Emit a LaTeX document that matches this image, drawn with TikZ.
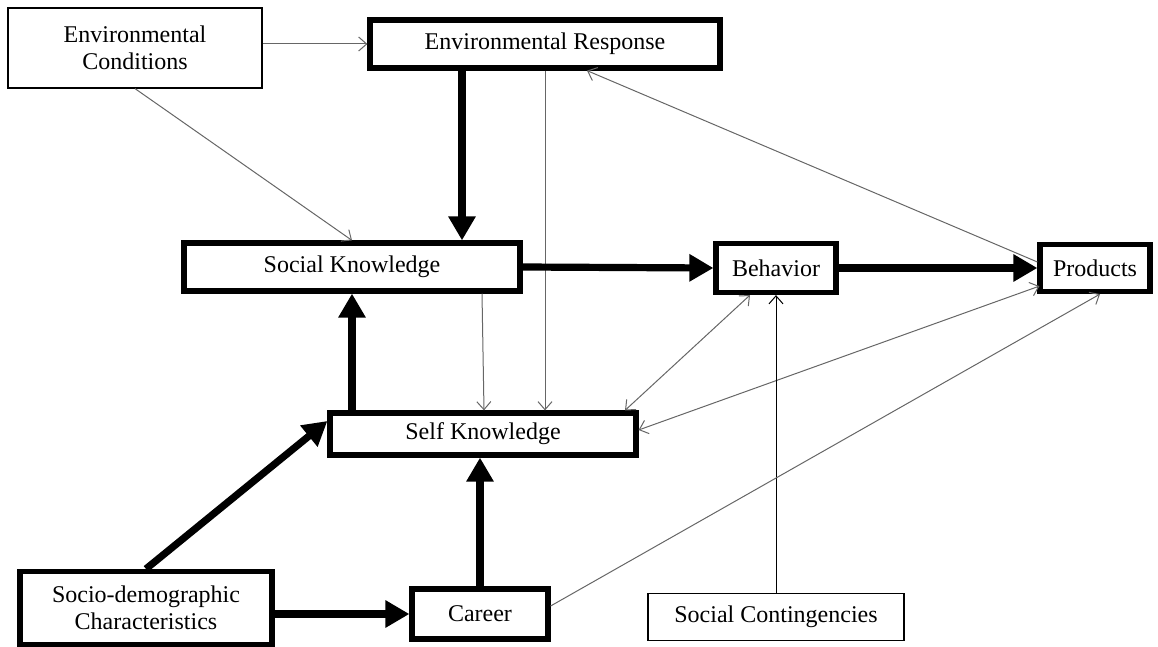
\documentclass[tikz,border=0pt]{standalone}
\usepackage{fontspec}
\setmainfont{Liberation Serif}
\usetikzlibrary{arrows.meta,positioning,calc}
\tikzset{
  box_thin/.style={rectangle,draw=black,line width=0.6pt,fill=white,
    align=center,font=\fontsize{12}{13.5}\selectfont,inner sep=2pt},
  box_thick/.style={rectangle,draw=black,line width=2.6pt,fill=white,
    align=center,font=\fontsize{12}{13.5}\selectfont,inner sep=2pt},
  arr_thin/.style={-{Straight Barb[length=4pt,width=7pt]},line width=0.5pt,draw=black!60},
  arr_both/.style={{Straight Barb[length=4pt,width=7pt]}-{Straight Barb[length=4pt,width=7pt]},
    line width=0.5pt,draw=black!60},
  arr_thick/.style={-{Triangle[length=12pt,width=13pt]},line width=3.6pt,draw=black},
}
\begin{document}
\begin{tikzpicture}[x=0.5pt,y=-0.5pt]
  \useasboundingbox (0,0) rectangle (1158,647);
  % boxes
  \node (envcond) [box_thin,minimum width=127pt,minimum height=40pt] at (135,48)
    {Environmental\\Conditions};
  \node (envresp) [box_thick,minimum width=175pt,minimum height=24pt] at (545,44)
    {Environmental Response};
  \node (socknow) [box_thick,minimum width=168pt,minimum height=24pt] at (352,267)
    {Social Knowledge};
  \node (behav) [box_thick,minimum width=60pt,minimum height=24.5pt] at (776,268)
    {Behavior};
  \node (prod) [box_thick,minimum width=55pt,minimum height=23.5pt] at (1095,268)
    {Products};
  \node (selfknow) [box_thick,minimum width=153pt,minimum height=21pt] at (483,434)
    {Self Knowledge};
  \node (socio) [box_thick,minimum width=126pt,minimum height=36.5pt] at (146,608)
    {Socio-demographic\\Characteristics};
  \node (career) [box_thick,minimum width=68pt,minimum height=25pt] at (480,614)
    {Career};
  \node (soccont) [box_thin,minimum width=128pt,minimum height=23.5pt] at (776,617)
    {Social Contingencies};
  % connector points
  \coordinate (skIn) at ($(socknow.north)+(110,0)$);
  \coordinate (selfInA) at ($(selfknow.north)+(62,0)$);
  \coordinate (selfInB) at ($(selfknow.north)+(1,0)$);
  \coordinate (skOut) at ($(socknow.south)+(130,0)$);
  \coordinate (erIn) at ($(envresp.south)+(42,0)$);
  \coordinate (prodA) at ($(prod.west)+(0,-6)$);
  \coordinate (prodB) at ($(prod.south west)+(2,-8)$);
  \coordinate (prodC) at ($(prod.south)+(5,0)$);
  \coordinate (behA) at ($(behav.south)+(-26,0)$);
  \coordinate (selfC) at ($(selfknow.north)+(142,0)$);
  \coordinate (selfD) at ($(selfknow.east)+(0,-4)$);
  \coordinate (selfE) at ($(selfknow.west)+(0,-13)$);
  \coordinate (careerOut) at ($(career.east)+(0,-8)$);
  % thin connectors
  \draw[arr_thin] (envcond.east |- envresp.west) -- (envresp.west);
  \draw[arr_thin] (envcond.south) -- (socknow.north);
  \draw[arr_thin] (selfInA |- envresp.south) -- (selfInA);
  \draw[arr_thin] (prodA) -- (erIn);
  \draw[arr_thin] (skOut) -- (selfInB);
  \draw[arr_both] (behA) -- (selfC);
  \draw[arr_both] (prodB) -- (selfD);
  \draw[arr_thin,draw=black] (soccont.north) -- (behav.south);
  \draw[arr_thin] (careerOut) -- (prodC);
  % thick connectors
  \draw[arr_thick] (skIn |- envresp.south) -- (skIn);
  \draw[arr_thick] (socknow.east) -- (behav.west);
  \draw[arr_thick] (behav.east) -- (prod.west);
  \draw[arr_thick] (selfknow.north -| socknow.south) -- (socknow.south);
  \draw[arr_thick] (socio.north) -- (selfE);
  \draw[arr_thick] (socio.east |- career.west) -- (career.west);
  \draw[arr_thick] (career.north) -- (career.north |- selfknow.south);
\end{tikzpicture}
\end{document}
